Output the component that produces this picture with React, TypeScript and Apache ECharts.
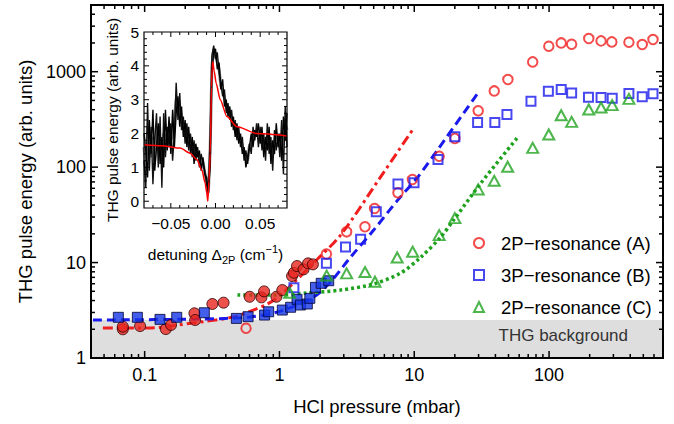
import React, { useEffect, useRef } from 'react';
import * as echarts from 'echarts';

const FONT = '"Liberation Sans", Arial, Helvetica, sans-serif';
const RED = '#f01e1e';
const BLUE = '#1a1aee';
const GREEN = '#1fa31f';

// axis ranges
const pressureRange = [0.04, 700];
const energyRange = [1, 5000];
const backgroundRange = [1, 2.5];
const detuningRange = [-0.08, 0.08];
const insetEnergyRange = [-0.2, 5];

// tick labels
const pressureTickLabels = ['0.1', '1', '10', '100'];
const energyTickLabels = ['1', '10', '100', '1000'];
const detuningTickLabels = ['−0.05', '0.00', '0.05'];
const insetEnergyTickLabels = ['0', '1', '2', '3', '4', '5'];

const seriesNames = ['2P−resonance (A)', '3P−resonance (B)', '2P−resonance (C)'];

// 2P resonance (A), filled (low pressure)
const pA_fill = [0.0689, 0.0689, 0.0925, 0.1435, 0.157, 0.234, 0.237, 0.318, 0.385, 0.601, 0.735, 0.769, 0.949, 1.05, 1.24, 1.28, 1.35, 1.51, 1.63, 1.77];
const eA_fill = [2.0, 2.13, 2.16, 2.01, 2.22, 2.94, 2.5, 3.68, 3.8, 4.38, 4.32, 4.99, 4.38, 5.15, 7.22, 7.82, 9.2, 8.49, 9.81, 9.57];
// 2P resonance (A), open
const pA_open = [0.565, 2.23, 3.15, 4.31, 5.08, 7.57, 9.69, 15.3, 20.0, 29.8, 39.2, 49.5, 75.6, 99.5, 123, 147, 197, 243, 292, 391, 491, 590];
const eA_open = [2.05, 12.3, 21.0, 23.7, 36.9, 53.8, 74.3, 130, 200, 389, 629, 828, 1267, 1849, 2003, 1941, 2228, 2103, 2052, 2036, 1926, 2174];
// 3P resonance (B), filled
const pB_fill = [0.0638, 0.0883, 0.130, 0.173, 0.277, 0.479, 0.585, 0.776, 0.832, 1.05, 1.21, 1.35, 1.43, 1.61, 1.68, 1.85, 2.04, 2.32];
const eB_fill = [2.67, 2.67, 2.54, 2.67, 2.98, 2.6, 2.71, 2.82, 3.05, 3.18, 3.40, 4.12, 3.59, 3.68, 4.22, 5.5, 6.06, 6.45];
// 3P resonance (B), open
const pB_open = [1.28, 2.23, 3.09, 4.0, 5.23, 7.57, 9.96, 15.0, 20.0, 29.5, 39.6, 48.7, 73.4, 98.8, 123, 147, 196, 243, 294, 391, 491, 590];
const eB_open = [5.45, 9.81, 14.6, 17.5, 34.0, 66.4, 68.5, 120, 208, 294, 294, 356, 491, 625, 651, 600, 541, 537, 528, 591, 545, 586];
// 2P resonance (C), open
const pC_open = [1.19, 2.24, 3.15, 4.31, 5.11, 7.47, 9.73, 15.3, 20.0, 29.8, 39.2, 49.3, 75.6, 99.5, 123, 147, 197, 243, 294, 391];
const eC_open = [4.83, 7.31, 7.71, 7.96, 6.3, 11.3, 13.0, 19.4, 29.2, 58.4, 71.9, 101, 159, 220, 350, 298, 402, 422, 446, 519];

// fit curves
const pA_fit = [0.049, 0.104, 0.229, 0.455, 0.64, 0.815, 1.02, 1.27, 1.79, 2.84, 5.63, 9.9];
const eA_fit = [2.06, 2.06, 2.33, 2.69, 3.18, 3.68, 4.57, 6.1, 9.9, 19.4, 79, 256];
const pB_fit = [0.0414, 0.258, 0.608, 1.02, 1.79, 2.39, 3.37, 5.0, 7.53, 10.6, 15.2, 29.6];
const eB_fit = [2.5, 2.56, 2.69, 3.1, 4.35, 6.25, 11.4, 21.9, 45.1, 78.5, 158, 596];
const pC_fit = [0.488, 1.02, 1.61, 2.84, 5.0, 7.93, 11.2, 15.7, 19.6, 31.2, 57.8];
const eC_fit = [4.57, 4.57, 4.8, 5.15, 5.96, 7.77, 11.4, 18.5, 27.9, 68, 201];

// inset: detuning scans
const detuning = [-0.08, -0.078, -0.076, -0.074, -0.072, -0.07, -0.068, -0.066, -0.064, -0.062, -0.06, -0.058, -0.056, -0.054, -0.052, -0.05, -0.048, -0.046, -0.044, -0.042, -0.04, -0.038, -0.036, -0.034, -0.032, -0.03, -0.028, -0.026, -0.024, -0.022, -0.02, -0.018, -0.016, -0.014, -0.012, -0.01, -0.008, -0.006, -0.004, -0.002, 0, 0.002, 0.004, 0.006, 0.008, 0.01, 0.012, 0.014, 0.016, 0.018, 0.02, 0.022, 0.024, 0.026, 0.028, 0.03, 0.032, 0.034, 0.036, 0.038, 0.04, 0.042, 0.044, 0.046, 0.048, 0.05, 0.052, 0.054, 0.056, 0.058, 0.06, 0.062, 0.064, 0.066, 0.068, 0.07, 0.072, 0.074, 0.076, 0.078, 0.08];
const scan1 = [1.2, 0.4, 2.9, 0.9, 2.2, 0.5, 1.8, 2.6, 1.0, 2.5, 0.4, 2.6, 1.3, 2.2, 1.6, 2.3, 1.2, 2.0, 3.5, 2.4, 3.2, 2.1, 2.5, 1.7, 2.3, 1.5, 2.0, 1.3, 1.8, 1.2, 1.6, 1.0, 1.4, 1.1, 0.9, 0.5, 0.2, 2.0, 4.3, 4.6, 4.2, 4.4, 3.8, 3.5, 3.1, 3.3, 2.6, 2.9, 2.4, 2.7, 2.1, 2.4, 1.8, 2.2, 1.6, 1.9, 1.2, 1.5, 1.1, 1.7, 1.4, 2.2, 1.8, 2.3, 1.6, 2.2, 1.5, 2.0, 1.2, 2.3, 1.4, 1.9, 0.9, 2.1, 1.5, 2.0, 1.3, 2.4, 0.8, 2.8, 1.6];
const scan2 = [2.0, 1.5, 0.7, 2.4, 1.4, 2.7, 0.9, 1.6, 2.3, 1.1, 1.9, 1.0, 2.7, 1.5, 2.5, 1.4, 2.7, 1.6, 2.6, 3.1, 2.2, 2.8, 1.9, 2.4, 1.6, 2.2, 1.4, 1.9, 1.1, 1.7, 1.3, 1.5, 0.9, 1.3, 0.8, 0.7, 0.3, 1.0, 3.8, 4.4, 4.5, 3.9, 4.1, 3.3, 3.6, 2.8, 3.0, 2.5, 2.8, 2.2, 2.5, 1.9, 2.3, 1.7, 2.0, 1.4, 1.6, 1.0, 1.3, 1.6, 2.0, 1.6, 2.1, 1.9, 2.3, 1.7, 2.2, 1.3, 1.9, 1.5, 2.2, 1.1, 1.8, 1.4, 2.3, 1.6, 2.0, 1.2, 2.5, 1.8, 2.6];
const scan3 = [1.6, 0.9, 2.2, 1.5, 1.3, 1.9, 1.2, 2.2, 1.6, 1.8, 1.1, 2.0, 1.9, 1.7, 2.1, 1.8, 2.0, 2.4, 3.0, 2.8, 2.6, 2.4, 2.2, 2.0, 2.1, 1.8, 1.7, 1.6, 1.5, 1.4, 1.45, 1.3, 1.2, 1.15, 0.85, 0.6, 0.25, 1.5, 4.0, 4.5, 4.35, 4.1, 3.9, 3.4, 3.3, 3.05, 2.8, 2.7, 2.6, 2.45, 2.3, 2.15, 2.05, 1.95, 1.8, 1.65, 1.4, 1.25, 1.2, 1.65, 1.7, 1.9, 1.95, 2.1, 1.95, 1.95, 1.85, 1.65, 1.55, 1.9, 1.8, 1.5, 1.35, 1.75, 1.9, 1.8, 1.65, 1.8, 1.65, 2.3, 2.1];
const fitDetuning = [-0.08, -0.06, -0.0396, -0.0284, -0.0209, -0.0153, -0.0116, -0.0098, -0.0086, -0.0073, -0.0059, -0.0045, -0.0037, -0.003, -0.0015, 0.0008, 0.0053, 0.0128, 0.024, 0.0464, 0.08];
const fitEnergy = [1.67, 1.64, 1.57, 1.42, 1.23, 0.93, 0.54, 0.25, 0.0, 0.6, 1.42, 3.38, 3.95, 4.12, 3.85, 3.48, 3.0, 2.5, 2.2, 2.0, 1.93];

const zip = (a: number[], b: number[]) => a.map((v, i) => [v, b[i]]);

function logTicks(min: number, max: number, major: number, minor: number) {
  const out: number[][] = [];
  for (let e = Math.floor(Math.log10(min)); e <= Math.ceil(Math.log10(max)); e++) {
    for (let m = 1; m <= 9; m++) {
      const v = m * Math.pow(10, e);
      if (v > min * 1.0001 && v < max * 0.9999) out.push([v, m === 1 ? major : minor]);
    }
  }
  return out;
}
function linTicks(min: number, max: number, step: number, every: number, major: number, minor: number) {
  const out: number[][] = [];
  const i0 = Math.ceil(min / step - 1e-9);
  const i1 = Math.floor(max / step + 1e-9);
  for (let i = i0; i <= i1; i++) {
    const v = i * step;
    if (v <= min + step * 1e-3 || v >= max - step * 1e-3) continue;
    out.push([v, i % every === 0 ? major : minor]);
  }
  return out;
}

function tickData(xr: number[], yr: number[], xt: number[][], yt: number[][]) {
  const d: number[][] = [];
  xt.forEach(([v, l]) => d.push([v, yr[0], 0, l]));
  yt.forEach(([v, l]) => d.push([xr[0], v, 1, l]));
  d.push([xr[0], yr[0], 2, 0]);
  return d;
}

function tickRenderer(xr: number[], yr: number[], lw: number, fw: number) {
  return (params: any, api: any) => {
    const kind = api.value(2);
    const len = api.value(3);
    const bl = api.coord([xr[0], yr[0]]);
    const tr = api.coord([xr[1], yr[1]]);
    const st = { stroke: '#000', lineWidth: lw };
    if (kind === 2) {
      return {
        type: 'rect',
        shape: { x: bl[0], y: tr[1], width: tr[0] - bl[0], height: bl[1] - tr[1] },
        style: { fill: 'none', stroke: '#000', lineWidth: fw },
      };
    }
    if (kind === 0) {
      const x = api.coord([api.value(0), yr[0]])[0];
      return {
        type: 'group',
        children: [
          { type: 'line', shape: { x1: x, y1: bl[1], x2: x, y2: bl[1] - len }, style: st },
          { type: 'line', shape: { x1: x, y1: tr[1], x2: x, y2: tr[1] + len }, style: st },
        ],
      };
    }
    const y = api.coord([xr[0], api.value(1)])[1];
    return {
      type: 'group',
      children: [
        { type: 'line', shape: { x1: bl[0], y1: y, x2: bl[0] + len, y2: y }, style: st },
        { type: 'line', shape: { x1: tr[0], y1: y, x2: tr[0] - len, y2: y }, style: st },
      ],
    };
  };
}

const fmtLog = (labels: string[]) => (v: number) => {
  const s = String(Number(v.toPrecision(6)));
  return labels.includes(s) ? s : '';
};
const fmtFixed2 = (labels: string[]) => (v: number) => {
  const x = Math.abs(v) < 1e-9 ? 0 : v;
  const s = x.toFixed(2).replace('-', '−');
  return labels.includes(s) ? s : '';
};
const fmtInt = (labels: string[]) => (v: number) => {
  const r = Math.round(v);
  if (Math.abs(v - r) > 1e-6) return '';
  const s = String(r);
  return labels.includes(s) ? s : '';
};

const openStyle = (c: string) => ({ color: 'transparent', borderColor: c, borderWidth: 2 });

export default function App() {
  const ref = useRef<HTMLDivElement>(null);
  useEffect(() => {
    document.body.style.margin = '0';
    const chart = echarts.init(ref.current!, undefined, { renderer: 'svg' });
    const mainTicks = tickData(pressureRange, energyRange, logTicks(pressureRange[0], pressureRange[1], 7, 4), logTicks(energyRange[0], energyRange[1], 7, 4));
    const insetTicks = tickData(detuningRange, insetEnergyRange, linTicks(detuningRange[0], detuningRange[1], 0.01, 5, 5, 3), linTicks(insetEnergyRange[0], insetEnergyRange[1], 0.2, 5, 5, 3));
    const option: any = {
      animation: false,
      backgroundColor: '#fff',
      textStyle: { fontFamily: FONT },
      grid: [
        { left: 91, top: 5, width: 572, height: 353, show: false },
        { left: 144, top: 32, width: 143, height: 176, show: true, backgroundColor: '#fff', borderWidth: 0 },
      ],
      legend: {
        orient: 'vertical',
        left: 468,
        top: 228,
        itemGap: 12,
        itemWidth: 10,
        itemHeight: 10,
        selectedMode: false,
        textStyle: { fontSize: 18.5, fontFamily: FONT, color: '#000', lineHeight: 20, padding: [0, 0, 0, 12] },
        data: [
          { name: seriesNames[0], icon: 'circle', itemStyle: { color: 'transparent', borderColor: RED, borderWidth: 2 } },
          { name: seriesNames[1], icon: 'rect', itemStyle: { color: 'transparent', borderColor: BLUE, borderWidth: 2 } },
          { name: seriesNames[2], icon: 'triangle', itemStyle: { color: 'transparent', borderColor: GREEN, borderWidth: 2 } },
        ],
      },
      xAxis: [
        {
          type: 'log', logBase: 10, gridIndex: 0, min: pressureRange[0], max: pressureRange[1],
          axisLine: { show: false }, axisTick: { show: false }, splitLine: { show: false }, minorTick: { show: false },
          axisLabel: { formatter: fmtLog(pressureTickLabels), fontSize: 18, fontFamily: FONT, color: '#000', margin: 8 },
          name: 'HCl pressure (mbar)', nameLocation: 'middle', nameGap: 39,
          nameTextStyle: { fontSize: 18.5, fontFamily: FONT, color: '#000' },
        },
        {
          type: 'value', gridIndex: 1, min: detuningRange[0], max: detuningRange[1], interval: 0.01,
          axisLine: { show: false }, axisTick: { show: false }, splitLine: { show: false },
          axisLabel: { formatter: fmtFixed2(detuningTickLabels), fontSize: 15.5, fontFamily: FONT, color: '#000', margin: 7 },
          name: 'detuning Δ{sub|2P} (cm{sup|−1})', nameLocation: 'middle', nameGap: 35,
          nameTextStyle: {
            fontSize: 15.5, fontFamily: FONT, color: '#000', lineHeight: 22,
            rich: {
              sub: { fontSize: 11, fontFamily: FONT, color: '#000', verticalAlign: 'bottom', lineHeight: 11 },
              sup: { fontSize: 11, fontFamily: FONT, color: '#000', verticalAlign: 'top', lineHeight: 11 },
            },
          },
        },
      ],
      yAxis: [
        {
          type: 'log', logBase: 10, gridIndex: 0, min: energyRange[0], max: energyRange[1],
          axisLine: { show: false }, axisTick: { show: false }, splitLine: { show: false }, minorTick: { show: false },
          axisLabel: { formatter: fmtLog(energyTickLabels), fontSize: 18, fontFamily: FONT, color: '#000', margin: 5 },
          name: 'THG pulse energy (arb. units)', nameLocation: 'middle', nameGap: 55,
          nameTextStyle: { fontSize: 18.5, fontFamily: FONT, color: '#000' },
        },
        {
          type: 'value', gridIndex: 1, min: insetEnergyRange[0], max: insetEnergyRange[1], interval: 0.2,
          axisLine: { show: false }, axisTick: { show: false }, splitLine: { show: false },
          axisLabel: { formatter: fmtInt(insetEnergyTickLabels), fontSize: 15.5, fontFamily: FONT, color: '#000', margin: 5 },
          name: 'THG pulse energy (arb. units)', nameLocation: 'middle', nameGap: 24,
          nameTextStyle: { fontSize: 15.5, fontFamily: FONT, color: '#000' },
        },
      ],
      series: [
        {
          name: 'fit A', type: 'line', xAxisIndex: 0, yAxisIndex: 0, data: zip(pA_fit, eA_fit),
          showSymbol: false, smooth: 0.3, z: 2,
          lineStyle: { color: RED, width: 3, type: [10, 4, 3, 4] },
          markArea: {
            silent: true,
            itemStyle: { color: '#dedede' },
            label: { show: true, position: 'insideRight', distance: 35, offset: [0, -4], fontSize: 17, fontFamily: FONT, color: '#333' },
            data: [[
              { name: 'THG background', coord: [pressureRange[0], backgroundRange[0]] },
              { coord: [pressureRange[1], backgroundRange[1]] },
            ]],
          },
        },
        {
          name: 'fit B', type: 'line', xAxisIndex: 0, yAxisIndex: 0, data: zip(pB_fit, eB_fit),
          showSymbol: false, smooth: 0.3, z: 2,
          lineStyle: { color: BLUE, width: 3, type: [9, 5] },
        },
        {
          name: 'fit C', type: 'line', xAxisIndex: 0, yAxisIndex: 0, data: zip(pC_fit, eC_fit),
          showSymbol: false, smooth: 0.3, z: 2,
          lineStyle: { color: GREEN, width: 3.5, type: [3, 3] },
        },
        {
          name: 'A filled', type: 'scatter', xAxisIndex: 0, yAxisIndex: 0, data: zip(pA_fill, eA_fill),
          symbol: 'circle', symbolSize: 11, z: 3,
          itemStyle: { color: '#e8261f', borderColor: '#2a0000', borderWidth: 1 },
        },
        {
          name: 'B filled', type: 'scatter', xAxisIndex: 0, yAxisIndex: 0, data: zip(pB_fill, eB_fill),
          symbol: 'rect', symbolSize: 10, z: 3,
          itemStyle: { color: '#1436e6', borderColor: '#000033', borderWidth: 1 },
        },
        {
          name: seriesNames[0], type: 'scatter', xAxisIndex: 0, yAxisIndex: 0, data: zip(pA_open, eA_open),
          symbol: 'circle', symbolSize: 9.5, z: 3, itemStyle: openStyle(RED),
        },
        {
          name: seriesNames[1], type: 'scatter', xAxisIndex: 0, yAxisIndex: 0, data: zip(pB_open, eB_open),
          symbol: 'rect', symbolSize: 9, z: 3, itemStyle: openStyle(BLUE),
        },
        {
          name: seriesNames[2], type: 'scatter', xAxisIndex: 0, yAxisIndex: 0, data: zip(pC_open, eC_open),
          symbol: 'triangle', symbolSize: [11, 10], z: 3, itemStyle: openStyle(GREEN),
        },
        {
          name: 'scan 3', type: 'line', xAxisIndex: 1, yAxisIndex: 1, data: zip(detuning, scan3),
          showSymbol: false, z: 1, lineStyle: { color: '#8a8a8a', width: 3 },
        },
        {
          name: 'scan 1', type: 'line', xAxisIndex: 1, yAxisIndex: 1, data: zip(detuning, scan1),
          showSymbol: false, z: 2, lineStyle: { color: '#111', width: 1.4 },
        },
        {
          name: 'scan 2', type: 'line', xAxisIndex: 1, yAxisIndex: 1, data: zip(detuning, scan2),
          showSymbol: false, z: 2, lineStyle: { color: '#000', width: 1.4 },
        },
        {
          name: 'fano fit', type: 'line', xAxisIndex: 1, yAxisIndex: 1, data: zip(fitDetuning, fitEnergy),
          showSymbol: false, smooth: 0.25, smoothMonotone: 'x', z: 4, lineStyle: { color: '#ff0000', width: 1.5 },
        },
        {
          name: 'main ticks', type: 'custom', xAxisIndex: 0, yAxisIndex: 0, data: mainTicks, silent: true, z: 10,
          renderItem: tickRenderer(pressureRange, energyRange, 1.5, 2),
        },
        {
          name: 'inset ticks', type: 'custom', xAxisIndex: 1, yAxisIndex: 1, data: insetTicks, silent: true, z: 10,
          renderItem: tickRenderer(detuningRange, insetEnergyRange, 1, 1.2),
        },
      ],
    };
    chart.setOption(option);
    return () => chart.dispose();
  }, []);
  return <div ref={ref} style={{ position: 'absolute', left: 0, top: 0, width: 674, height: 424 }} />;
}
